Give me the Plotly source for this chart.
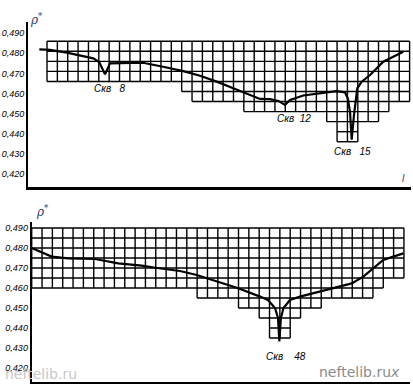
import plotly.graph_objects as go

# ---------------- data ----------------
y_tick_vals = [0.420, 0.430, 0.440, 0.450, 0.460, 0.470, 0.480, 0.490]
y_tick_text = ["0,420", "0,430", "0,440", "0,450", "0,460", "0,470", "0,480", "0,490"]

# top profile (x in grid-cell units)
top_x = [-0.74, 0.29, 1.90, 4.47, 5.05, 5.60, 6.08, 9.27, 11.2, 13.16, 14.77, 16.38,
         17.98, 19.59, 20.56, 21.53, 22.33, 22.97, 23.46, 24.74, 26.35, 27.96, 28.76,
         29.03, 29.25, 29.41, 29.63, 29.95, 30.38, 31.18, 32.46, 33.75, 34.39]
top_rho = [0.4820, 0.4817, 0.4803, 0.4775, 0.4755, 0.4695, 0.4750, 0.4753, 0.4733, 0.4711,
           0.4688, 0.4659, 0.4626, 0.4593, 0.4573, 0.4572, 0.4563, 0.4543, 0.4568, 0.4590,
           0.4601, 0.4612, 0.4606, 0.4576, 0.4509, 0.4370, 0.4493, 0.4626, 0.4659, 0.4692,
           0.4758, 0.4792, 0.4808]
# grid floor per column (top panel), grid top and row step
top_grid_top = 0.486
top_grid_floor = ([0.466] * 13 + [0.461] + [0.456] * 5 + [0.451] * 8 + [0.446]
                  + [0.436] * 2 + [0.446] * 2 + [0.451] + [0.456] * 2)

# bottom profile
bot_x = [0.0, 1.93, 3.54, 6.12, 8.37, 10.64, 12.12, 14.34, 15.96, 17.89, 19.98, 22.08,
         22.85, 23.53, 23.82, 23.95, 24.10, 24.35, 24.98, 25.95, 27.88, 29.98, 30.95,
         32.07, 33.04, 34.0, 34.97, 35.94]
bot_rho = [0.4800, 0.4757, 0.4748, 0.4745, 0.4723, 0.4712, 0.4700, 0.4685, 0.4665, 0.4632,
           0.4599, 0.4557, 0.4540, 0.4500, 0.4450, 0.4333, 0.4450, 0.4500, 0.4540, 0.4557,
           0.4582, 0.4612, 0.4623, 0.4657, 0.4698, 0.4740, 0.4757, 0.4773]
bot_grid_top = 0.490
bot_grid_floor = ([0.460] * 16 + [0.455] * 4 + [0.450] * 2 + [0.445] + [0.435] * 2
                  + [0.445] + [0.450] * 2 + [0.455] * 5 + [0.460] + [0.465] * 2)
grid_step = 0.005

well_labels_top = ["Скв   8", "Скв  12", "Скв   15"]
well_x_top = [6.0, 23.8, 29.5]
well_rho_top = [0.4625, 0.4475, 0.4310]
well_labels_bot = ["Скв    48"]
well_x_bot = [24.6]
well_rho_bot = [0.4260]


def grid_path(top, floors, step):
    n = len(floors)
    rows = [round((top - f) / step) for f in floors]
    xs, ys = [], []
    # horizontal lines
    for r in range(max(rows) + 1):
        k = 0
        while k < n:
            if rows[k] >= r:
                s = k
                while k < n and rows[k] >= r:
                    k += 1
                xs += [s, k, None]
                ys += [top - r * step, top - r * step, None]
            else:
                k += 1
    # vertical lines
    for e in range(n + 1):
        left = rows[e - 1] if e - 1 >= 0 else 0
        right = rows[e] if e < n else 0
        depth = max(left, right)
        xs += [e, e, None]
        ys += [top, top - depth * step, None]
    return xs, ys


fig = go.Figure()

gx, gy = grid_path(top_grid_top, top_grid_floor, grid_step)
fig.add_trace(go.Scatter(x=gx, y=gy, mode="lines", line=dict(color="black", width=1.4),
                         xaxis="x", yaxis="y", hoverinfo="skip", showlegend=False))
fig.add_trace(go.Scatter(x=top_x, y=top_rho, mode="lines", line=dict(color="black", width=2.2),
                         xaxis="x", yaxis="y", showlegend=False))

gx2, gy2 = grid_path(bot_grid_top, bot_grid_floor, grid_step)
fig.add_trace(go.Scatter(x=gx2, y=gy2, mode="lines", line=dict(color="black", width=1.4),
                         xaxis="x2", yaxis="y2", hoverinfo="skip", showlegend=False))
fig.add_trace(go.Scatter(x=bot_x, y=bot_rho, mode="lines", line=dict(color="black", width=2.2),
                         xaxis="x2", yaxis="y2", showlegend=False))

W, H = 413, 384
yfont = dict(family="Liberation Sans", size=9, color="black", style="italic")

fig.update_layout(
    width=W, height=H, autosize=False,
    margin=dict(l=0, r=0, t=0, b=0),
    paper_bgcolor="white", plot_bgcolor="white",
    xaxis=dict(domain=[28 / W, 411 / W], range=[-1.834, 35.135], anchor="y",
               showline=True, linecolor="black", linewidth=3, showgrid=False,
               zeroline=False, showticklabels=False, ticks=""),
    yaxis=dict(domain=[1 - 187 / H, 1 - 22 / H], range=[0.41348, 0.49557], anchor="x",
               showline=True, linecolor="black", linewidth=2, showgrid=False,
               zeroline=False, tickvals=y_tick_vals, ticktext=y_tick_text,
               ticks="", tickfont=yfont),
    xaxis2=dict(domain=[31.7 / W, 410 / W], range=[0, 36.586], anchor="y2",
                showline=True, linecolor="black", linewidth=3, showgrid=False,
                zeroline=False, showticklabels=False, ticks=""),
    yaxis2=dict(domain=[1 - 382 / H, 1 - 222 / H], range=[0.413, 0.493], anchor="x2",
                showline=True, linecolor="black", linewidth=2, showgrid=False,
                zeroline=False, tickvals=y_tick_vals, ticktext=y_tick_text,
                ticks="", tickfont=yfont),
)

lab_font = dict(family="Liberation Sans", size=10, color="black", style="italic")
for t, x, y in zip(well_labels_top, well_x_top, well_rho_top):
    fig.add_annotation(x=x, y=y, xref="x", yref="y", text=t, showarrow=False, font=lab_font)
for t, x, y in zip(well_labels_bot, well_x_bot, well_rho_bot):
    fig.add_annotation(x=x, y=y, xref="x2", yref="y2", text=t, showarrow=False, font=lab_font)

# axis titles
fig.add_annotation(x=28 / W, y=1 - 9 / H, xref="paper", yref="paper", text="ρ<sup>*</sup>",
                   showarrow=False, font=dict(family="DejaVu Serif", size=12, style="italic"))
fig.add_annotation(x=34 / W, y=1 - 211 / H, xref="paper", yref="paper", text="ρ<sup>*</sup>",
                   showarrow=False, font=dict(family="DejaVu Serif", size=12, style="italic"))
fig.add_annotation(x=407 / W, y=1 - 178 / H, xref="paper", yref="paper", text="l",
                   showarrow=False, font=dict(family="Liberation Sans", size=10, style="italic"))

# watermarks (with the bottom axis letter)
fig.add_annotation(x=3 / W, y=1 - 384 / H, xref="paper", yref="paper", xanchor="left",
                   yanchor="bottom", text="neftelib.ru", showarrow=False,
                   font=dict(family="DejaVu Sans", size=14, color="#c8c8c8"))
fig.add_annotation(x=402 / W, y=1 - 382 / H, xref="paper", yref="paper", xanchor="right",
                   yanchor="bottom", text="neftelib.ru<i>x</i>", showarrow=False,
                   font=dict(family="DejaVu Sans", size=14, color="#8a8a8a"))

fig.write_html("out.html", config={"displayModeBar": False},
               post_script="document.body.style.margin='0px';")
